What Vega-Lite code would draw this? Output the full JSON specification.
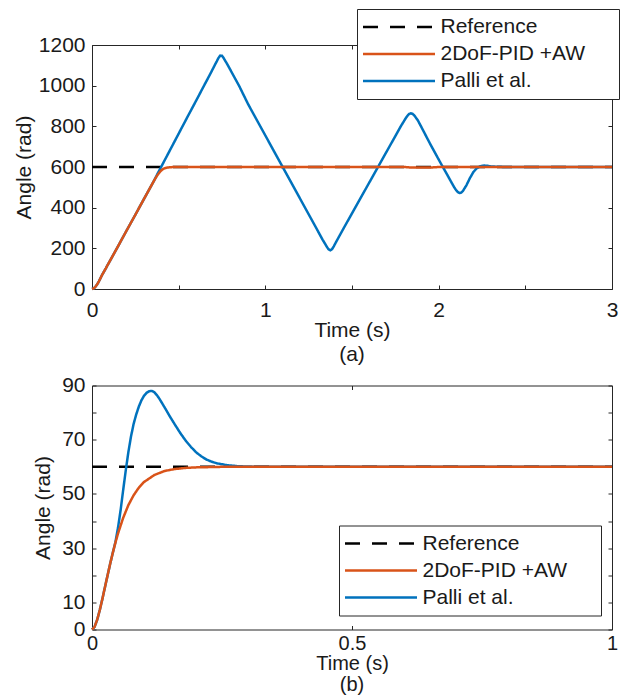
{
  "$schema": "https://vega.github.io/schema/vega-lite/v6.json",
  "padding": {"left": 12, "top": 8, "right": 0, "bottom": 0},
  "spacing": 7.5,
  "resolve": {"scale": {"color": "independent", "strokeDash": "independent"}, "legend": {"color": "independent", "strokeDash": "independent"}},
  "config": {
    "font": "Liberation Sans",
    "view": {"stroke": "#262626", "strokeWidth": 1},
    "axis": {
      "domain": false, "grid": false, "ticks": true,
      "tickColor": "#262626", "tickSize": -4, "tickWidth": 1,
      "labelFont": "Liberation Sans", "labelFontSize": 21, "labelColor": "#1a1a1a",
      "titleFont": "Liberation Sans", "titleFontSize": 21, "titleFontWeight": "normal", "titleColor": "#1a1a1a",
      "labelFlush": false, "labelOverlap": false
    },
    "legend": {
      "orient": "none", "symbolType": "stroke", "symbolSize": 5184, "symbolStrokeWidth": 2.5,
      "labelFont": "Liberation Sans", "labelFontSize": 21, "labelColor": "#1a1a1a", "labelOffset": 4,
      "padding": 4.5, "fillColor": "white", "strokeColor": "#262626", "clipHeight": 27, "rowPadding": 0,
      "labelLimit": 400
    }
  },
  "vconcat": [
    {
      "width": 520, "height": 244,
      "title": {"text": "(a)", "orient": "bottom", "frame": "group", "anchor": "middle", "fontSize": 21, "fontWeight": "normal", "color": "#1a1a1a", "offset": 4},
      "data": {"values": [
        {"t": 0, "v": 600, "s": "Reference"}, {"t": 3, "v": 600, "s": "Reference"},
        {"t": 0, "v": 0, "s": "2DoF-PID +AW"}, {"t": 0.01, "v": 3, "s": "2DoF-PID +AW"}, {"t": 0.02, "v": 11, "s": "2DoF-PID +AW"}, {"t": 0.03, "v": 23, "s": "2DoF-PID +AW"}, {"t": 0.04, "v": 38, "s": "2DoF-PID +AW"}, {"t": 0.05, "v": 55, "s": "2DoF-PID +AW"}, {"t": 0.06, "v": 72, "s": "2DoF-PID +AW"}, {"t": 0.07, "v": 87, "s": "2DoF-PID +AW"}, {"t": 0.08, "v": 102, "s": "2DoF-PID +AW"}, {"t": 0.09, "v": 118, "s": "2DoF-PID +AW"}, {"t": 0.1, "v": 133, "s": "2DoF-PID +AW"}, {"t": 0.15, "v": 210, "s": "2DoF-PID +AW"}, {"t": 0.2, "v": 288, "s": "2DoF-PID +AW"}, {"t": 0.25, "v": 365, "s": "2DoF-PID +AW"}, {"t": 0.3, "v": 443, "s": "2DoF-PID +AW"}, {"t": 0.34, "v": 505, "s": "2DoF-PID +AW"}, {"t": 0.36, "v": 536, "s": "2DoF-PID +AW"}, {"t": 0.37, "v": 550, "s": "2DoF-PID +AW"}, {"t": 0.38, "v": 563, "s": "2DoF-PID +AW"}, {"t": 0.39, "v": 574, "s": "2DoF-PID +AW"}, {"t": 0.4, "v": 583, "s": "2DoF-PID +AW"}, {"t": 0.41, "v": 590, "s": "2DoF-PID +AW"}, {"t": 0.42, "v": 594, "s": "2DoF-PID +AW"}, {"t": 0.44, "v": 598, "s": "2DoF-PID +AW"}, {"t": 0.47, "v": 600, "s": "2DoF-PID +AW"}, {"t": 1.8, "v": 600, "s": "2DoF-PID +AW"}, {"t": 1.85, "v": 597, "s": "2DoF-PID +AW"}, {"t": 1.95, "v": 597, "s": "2DoF-PID +AW"}, {"t": 2.0, "v": 600, "s": "2DoF-PID +AW"}, {"t": 3, "v": 600, "s": "2DoF-PID +AW"},
        {"t": 0, "v": 0, "s": "Palli et al."}, {"t": 0.01, "v": 3, "s": "Palli et al."}, {"t": 0.02, "v": 11, "s": "Palli et al."}, {"t": 0.03, "v": 23, "s": "Palli et al."}, {"t": 0.04, "v": 38, "s": "Palli et al."}, {"t": 0.05, "v": 55, "s": "Palli et al."}, {"t": 0.06, "v": 72, "s": "Palli et al."}, {"t": 0.07, "v": 87, "s": "Palli et al."}, {"t": 0.08, "v": 102, "s": "Palli et al."}, {"t": 0.09, "v": 118, "s": "Palli et al."}, {"t": 0.1, "v": 133, "s": "Palli et al."}, {"t": 0.15, "v": 210, "s": "Palli et al."}, {"t": 0.2, "v": 288, "s": "Palli et al."}, {"t": 0.25, "v": 365, "s": "Palli et al."}, {"t": 0.3, "v": 443, "s": "Palli et al."}, {"t": 0.34, "v": 505, "s": "Palli et al."}, {"t": 0.36, "v": 536, "s": "Palli et al."}, {"t": 0.37, "v": 553, "s": "Palli et al."}, {"t": 0.38, "v": 570, "s": "Palli et al."}, {"t": 0.39, "v": 586, "s": "Palli et al."}, {"t": 0.4, "v": 602, "s": "Palli et al."}, {"t": 0.45, "v": 683, "s": "Palli et al."}, {"t": 0.5, "v": 764, "s": "Palli et al."}, {"t": 0.55, "v": 845, "s": "Palli et al."}, {"t": 0.6, "v": 925, "s": "Palli et al."}, {"t": 0.65, "v": 1006, "s": "Palli et al."}, {"t": 0.68, "v": 1054, "s": "Palli et al."}, {"t": 0.7, "v": 1087, "s": "Palli et al."}, {"t": 0.71, "v": 1104, "s": "Palli et al."}, {"t": 0.72, "v": 1120, "s": "Palli et al."}, {"t": 0.73, "v": 1137, "s": "Palli et al."}, {"t": 0.74, "v": 1148, "s": "Palli et al."}, {"t": 0.75, "v": 1147, "s": "Palli et al."}, {"t": 0.76, "v": 1135, "s": "Palli et al."}, {"t": 0.78, "v": 1106, "s": "Palli et al."}, {"t": 0.8, "v": 1075, "s": "Palli et al."}, {"t": 0.85, "v": 997, "s": "Palli et al."}, {"t": 0.9, "v": 910, "s": "Palli et al."}, {"t": 1.0, "v": 755, "s": "Palli et al."}, {"t": 1.1, "v": 600, "s": "Palli et al."}, {"t": 1.2, "v": 445, "s": "Palli et al."}, {"t": 1.3, "v": 290, "s": "Palli et al."}, {"t": 1.33, "v": 243, "s": "Palli et al."}, {"t": 1.345, "v": 222, "s": "Palli et al."}, {"t": 1.355, "v": 207, "s": "Palli et al."}, {"t": 1.365, "v": 195, "s": "Palli et al."}, {"t": 1.375, "v": 190, "s": "Palli et al."}, {"t": 1.385, "v": 196, "s": "Palli et al."}, {"t": 1.395, "v": 210, "s": "Palli et al."}, {"t": 1.41, "v": 234, "s": "Palli et al."}, {"t": 1.45, "v": 296, "s": "Palli et al."}, {"t": 1.5, "v": 372, "s": "Palli et al."}, {"t": 1.55, "v": 448, "s": "Palli et al."}, {"t": 1.6, "v": 524, "s": "Palli et al."}, {"t": 1.65, "v": 600, "s": "Palli et al."}, {"t": 1.7, "v": 676, "s": "Palli et al."}, {"t": 1.75, "v": 752, "s": "Palli et al."}, {"t": 1.78, "v": 798, "s": "Palli et al."}, {"t": 1.8, "v": 826, "s": "Palli et al."}, {"t": 1.81, "v": 840, "s": "Palli et al."}, {"t": 1.82, "v": 852, "s": "Palli et al."}, {"t": 1.83, "v": 861, "s": "Palli et al."}, {"t": 1.84, "v": 864, "s": "Palli et al."}, {"t": 1.85, "v": 861, "s": "Palli et al."}, {"t": 1.86, "v": 853, "s": "Palli et al."}, {"t": 1.88, "v": 829, "s": "Palli et al."}, {"t": 1.9, "v": 797, "s": "Palli et al."}, {"t": 1.95, "v": 715, "s": "Palli et al."}, {"t": 2.0, "v": 637, "s": "Palli et al."}, {"t": 2.024, "v": 600, "s": "Palli et al."}, {"t": 2.05, "v": 561, "s": "Palli et al."}, {"t": 2.07, "v": 530, "s": "Palli et al."}, {"t": 2.09, "v": 500, "s": "Palli et al."}, {"t": 2.1, "v": 487, "s": "Palli et al."}, {"t": 2.11, "v": 477, "s": "Palli et al."}, {"t": 2.12, "v": 472, "s": "Palli et al."}, {"t": 2.13, "v": 474, "s": "Palli et al."}, {"t": 2.14, "v": 482, "s": "Palli et al."}, {"t": 2.16, "v": 510, "s": "Palli et al."}, {"t": 2.18, "v": 545, "s": "Palli et al."}, {"t": 2.2, "v": 575, "s": "Palli et al."}, {"t": 2.22, "v": 594, "s": "Palli et al."}, {"t": 2.24, "v": 604, "s": "Palli et al."}, {"t": 2.26, "v": 607, "s": "Palli et al."}, {"t": 2.28, "v": 606, "s": "Palli et al."}, {"t": 2.3, "v": 603, "s": "Palli et al."}, {"t": 2.34, "v": 601, "s": "Palli et al."}, {"t": 2.4, "v": 600, "s": "Palli et al."}, {"t": 3, "v": 600, "s": "Palli et al."}
      ]},
      "resolve": {"axis": {"x": "independent", "y": "independent"}},
      "layer": [
        {
          "encoding": {
            "x": {"field": "t", "type": "quantitative", "scale": {"domain": [0, 3], "nice": false, "zero": false},
                  "axis": {"orient": "bottom", "values": [0, 0.5, 1, 1.5, 2, 2.5, 3], "format": "~g", "labelExpr": "datum.value % 1 === 0 ? datum.label : ''", "labelPadding": 14, "title": "Time (s)", "titlePadding": -1}},
            "y": {"field": "v", "type": "quantitative", "scale": {"domain": [0, 1200], "nice": false},
                  "axis": {"orient": "left", "values": [0, 200, 400, 600, 800, 1000, 1200], "format": "d", "labelPadding": 11, "title": "Angle (rad)", "titlePadding": 4}},
            "color": {"field": "s", "type": "nominal", "scale": {"domain": ["Reference", "2DoF-PID +AW", "Palli et al."], "range": ["#000000", "#D95319", "#0072BD"]},
                      "legend": {"title": null, "legendX": 265, "legendY": -36, "labelExpr": "datum.label + '\u00a0\u00a0\u00a0\u00a0\u00a0\u200b'"}},
            "strokeDash": {"field": "s", "type": "nominal", "scale": {"domain": ["Reference", "2DoF-PID +AW", "Palli et al."], "range": [[15, 12], [1, 0], [1, 0]]},
                      "legend": {"title": null, "legendX": 265, "legendY": -36, "labelExpr": "datum.label + '\u00a0\u00a0\u00a0\u00a0\u00a0\u200b'"}}
          },
          "layer": [
            {"transform": [{"filter": "datum.s === 'Reference'"}], "mark": {"type": "line", "strokeWidth": 2.5}},
            {"transform": [{"filter": "datum.s === 'Palli et al.'"}], "mark": {"type": "line", "strokeWidth": 2.5}},
            {"transform": [{"filter": "datum.s === '2DoF-PID +AW'"}], "mark": {"type": "line", "strokeWidth": 2.5}}
          ]
        },
        {
          "mark": {"type": "point", "opacity": 0},
          "encoding": {
            "x": {"field": "t", "type": "quantitative", "axis": {"orient": "top", "values": [0, 0.5, 1, 1.5, 2, 2.5, 3], "labels": false, "title": null}},
            "y": {"field": "v", "type": "quantitative", "axis": {"orient": "right", "values": [0, 200, 400, 600, 800, 1000, 1200], "labels": false, "title": null}}
          }
        }
      ]
    },
    {
      "width": 520, "height": 244,
      "title": {"text": "(b)", "orient": "bottom", "frame": "group", "anchor": "middle", "fontSize": 20, "fontWeight": "normal", "color": "#1a1a1a", "offset": 1},
      "data": {"values": [
        {"t": 0, "v": 60, "s": "Reference"}, {"t": 1, "v": 60, "s": "Reference"},
        {"t": 0, "v": 0, "s": "2DoF-PID +AW"}, {"t": 0.005, "v": 1.0, "s": "2DoF-PID +AW"}, {"t": 0.01, "v": 3.6, "s": "2DoF-PID +AW"}, {"t": 0.015, "v": 7.2, "s": "2DoF-PID +AW"}, {"t": 0.02, "v": 11.3, "s": "2DoF-PID +AW"}, {"t": 0.025, "v": 15.7, "s": "2DoF-PID +AW"}, {"t": 0.03, "v": 20.0, "s": "2DoF-PID +AW"}, {"t": 0.035, "v": 24.3, "s": "2DoF-PID +AW"}, {"t": 0.04, "v": 28.3, "s": "2DoF-PID +AW"}, {"t": 0.045, "v": 32.0, "s": "2DoF-PID +AW"}, {"t": 0.05, "v": 35.4, "s": "2DoF-PID +AW"}, {"t": 0.06, "v": 41.2, "s": "2DoF-PID +AW"}, {"t": 0.07, "v": 45.9, "s": "2DoF-PID +AW"}, {"t": 0.08, "v": 49.5, "s": "2DoF-PID +AW"}, {"t": 0.09, "v": 52.3, "s": "2DoF-PID +AW"}, {"t": 0.1, "v": 54.4, "s": "2DoF-PID +AW"}, {"t": 0.12, "v": 57.0, "s": "2DoF-PID +AW"}, {"t": 0.14, "v": 58.5, "s": "2DoF-PID +AW"}, {"t": 0.16, "v": 59.2, "s": "2DoF-PID +AW"}, {"t": 0.18, "v": 59.6, "s": "2DoF-PID +AW"}, {"t": 0.2, "v": 59.8, "s": "2DoF-PID +AW"}, {"t": 0.25, "v": 60, "s": "2DoF-PID +AW"}, {"t": 1, "v": 60, "s": "2DoF-PID +AW"},
        {"t": 0, "v": 0, "s": "Palli et al."}, {"t": 0.005, "v": 1.0, "s": "Palli et al."}, {"t": 0.01, "v": 3.6, "s": "Palli et al."}, {"t": 0.015, "v": 7.2, "s": "Palli et al."}, {"t": 0.02, "v": 11.3, "s": "Palli et al."}, {"t": 0.025, "v": 15.7, "s": "Palli et al."}, {"t": 0.03, "v": 20.0, "s": "Palli et al."}, {"t": 0.035, "v": 24.3, "s": "Palli et al."}, {"t": 0.04, "v": 28.3, "s": "Palli et al."}, {"t": 0.045, "v": 32.2, "s": "Palli et al."}, {"t": 0.05, "v": 37.5, "s": "Palli et al."}, {"t": 0.055, "v": 44, "s": "Palli et al."}, {"t": 0.06, "v": 51.5, "s": "Palli et al."}, {"t": 0.065, "v": 58.8, "s": "Palli et al."}, {"t": 0.07, "v": 65.5, "s": "Palli et al."}, {"t": 0.075, "v": 71.2, "s": "Palli et al."}, {"t": 0.08, "v": 75.8, "s": "Palli et al."}, {"t": 0.085, "v": 79.3, "s": "Palli et al."}, {"t": 0.09, "v": 82.2, "s": "Palli et al."}, {"t": 0.095, "v": 84.5, "s": "Palli et al."}, {"t": 0.1, "v": 86.2, "s": "Palli et al."}, {"t": 0.105, "v": 87.3, "s": "Palli et al."}, {"t": 0.11, "v": 87.9, "s": "Palli et al."}, {"t": 0.115, "v": 88.0, "s": "Palli et al."}, {"t": 0.12, "v": 87.5, "s": "Palli et al."}, {"t": 0.125, "v": 86.4, "s": "Palli et al."}, {"t": 0.13, "v": 85.0, "s": "Palli et al."}, {"t": 0.14, "v": 81.8, "s": "Palli et al."}, {"t": 0.15, "v": 78.5, "s": "Palli et al."}, {"t": 0.16, "v": 75.4, "s": "Palli et al."}, {"t": 0.17, "v": 72.4, "s": "Palli et al."}, {"t": 0.18, "v": 69.7, "s": "Palli et al."}, {"t": 0.19, "v": 67.4, "s": "Palli et al."}, {"t": 0.2, "v": 65.4, "s": "Palli et al."}, {"t": 0.21, "v": 63.9, "s": "Palli et al."}, {"t": 0.22, "v": 62.7, "s": "Palli et al."}, {"t": 0.23, "v": 61.9, "s": "Palli et al."}, {"t": 0.24, "v": 61.3, "s": "Palli et al."}, {"t": 0.26, "v": 60.6, "s": "Palli et al."}, {"t": 0.28, "v": 60.25, "s": "Palli et al."}, {"t": 0.3, "v": 60.1, "s": "Palli et al."}, {"t": 0.33, "v": 60, "s": "Palli et al."}, {"t": 1, "v": 60, "s": "Palli et al."}
      ]},
      "resolve": {"axis": {"x": "independent", "y": "independent"}},
      "layer": [
        {
          "encoding": {
            "x": {"field": "t", "type": "quantitative", "scale": {"domain": [0, 1], "nice": false, "zero": false},
                  "axis": {"orient": "bottom", "values": [0, 0.5, 1], "format": "~g", "labelFontSize": 20, "titleFontSize": 20, "labelPadding": 8, "title": "Time (s)", "titlePadding": 0}},
            "y": {"field": "v", "type": "quantitative", "scale": {"domain": [0, 90], "nice": false},
                  "axis": {"orient": "left", "values": [0, 10, 20, 30, 40, 50, 60, 70, 80, 90], "format": "d", "labelExpr": "indexof([0, 10, 30, 50, 70, 90], datum.value) >= 0 ? datum.label : ''", "labelPadding": 11, "title": "Angle (rad)", "titlePadding": 8}},
            "color": {"field": "s", "type": "nominal", "scale": {"domain": ["Reference", "2DoF-PID +AW", "Palli et al."], "range": ["#000000", "#D95319", "#0072BD"]},
                      "legend": {"title": null, "legendX": 247, "legendY": 140, "labelExpr": "datum.label + '\u00a0\u00a0\u00a0\u00a0\u00a0\u200b'"}},
            "strokeDash": {"field": "s", "type": "nominal", "scale": {"domain": ["Reference", "2DoF-PID +AW", "Palli et al."], "range": [[15, 12], [1, 0], [1, 0]]},
                      "legend": {"title": null, "legendX": 247, "legendY": 140, "labelExpr": "datum.label + '\u00a0\u00a0\u00a0\u00a0\u00a0\u200b'"}}
          },
          "layer": [
            {"transform": [{"filter": "datum.s === 'Reference'"}], "mark": {"type": "line", "strokeWidth": 2.5}},
            {"transform": [{"filter": "datum.s === 'Palli et al.'"}], "mark": {"type": "line", "strokeWidth": 2.5}},
            {"transform": [{"filter": "datum.s === '2DoF-PID +AW'"}], "mark": {"type": "line", "strokeWidth": 2.5}}
          ]
        },
        {
          "mark": {"type": "point", "opacity": 0},
          "encoding": {
            "x": {"field": "t", "type": "quantitative", "axis": {"orient": "top", "values": [0, 0.5, 1], "labels": false, "title": null}},
            "y": {"field": "v", "type": "quantitative", "axis": {"orient": "right", "values": [0, 10, 20, 30, 40, 50, 60, 70, 80, 90], "labels": false, "title": null}}
          }
        }
      ]
    }
  ]
}
